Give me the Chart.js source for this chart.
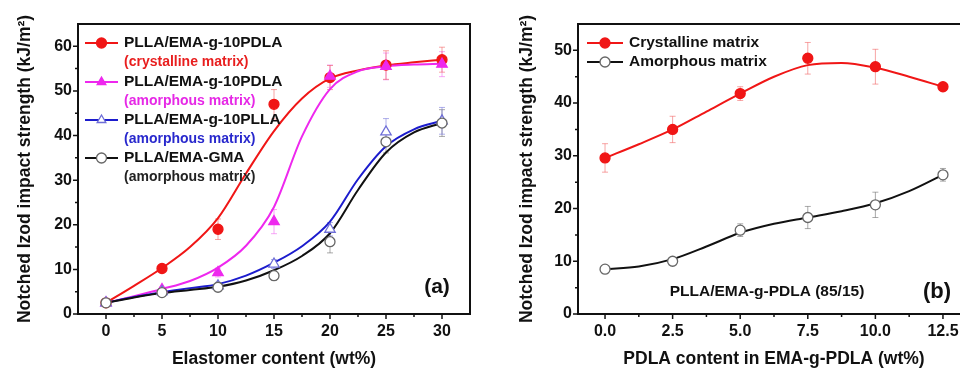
<!DOCTYPE html>
<html><head><meta charset="utf-8">
<script src="https://cdn.jsdelivr.net/npm/chart.js@4.4.1/dist/chart.umd.min.js"></script>
<style>
html,body{margin:0;padding:0;background:#fff;overflow:hidden;width:960px;height:370px;}
#wrapA{position:absolute;left:0;top:0;width:480px;height:370px;}
#wrapB{position:absolute;left:480px;top:0;width:500px;height:370px;}
</style></head><body>
<div id="wrapA"><canvas id="cA" width="480" height="370"></canvas></div>
<div id="wrapB"><canvas id="cB" width="500" height="370"></canvas></div>
<script>
// ---------- Panel (a) data ----------
const elastomerContent = [0, 5, 10, 15, 20, 25, 30];
const crystPDLA   = [2.5, 10.2, 19.0, 47.0, 53.0, 55.8, 57.0];
const amorPDLA    = [2.5, 5.5, 9.3, 20.7, 53.3, 55.5, 56.0];
const amorPLLA    = [2.5, 5.0, 6.3, 11.2, 19.0, 40.8, 43.3];
const amorGMA     = [2.5, 4.8, 6.0, 8.6, 16.2, 38.6, 42.8];
const crystPDLAErr = [0.3, 0.5, 2.3, 3.3, 2.7, 3.2, 2.8];
const amorPDLAErr  = [0.3, 0.5, 1.0, 2.7, 2.5, 3.0, 2.8];
const amorPLLAErr  = [0.3, 0.5, 0.8, 1.0, 1.5, 3.0, 3.0];
const amorGMAErr   = [0.3, 0.5, 0.8, 1.0, 2.5, 2.5, 3.0];
// fitted curves
const fitX        = [0, 2.5, 5, 7.5, 10, 12.5, 15, 17.5, 20, 22.5, 25, 27.5, 30];
const crystPDLAFit = [2.5, 6.3, 10.3, 15.0, 21.5, 31.5, 41.0, 48.3, 52.8, 54.6, 55.7, 56.4, 57.0];
const amorPDLAFit  = [2.5, 4.0, 5.6, 7.4, 10.4, 15.3, 24.0, 39.8, 50.4, 54.4, 55.5, 55.9, 56.1];
const amorPLLAFit  = [2.5, 3.8, 4.9, 5.8, 6.7, 8.6, 11.5, 15.2, 20.7, 30.2, 37.6, 41.4, 43.3];
const amorGMAFit   = [2.5, 3.7, 4.7, 5.4, 6.1, 7.5, 9.8, 13.0, 18.1, 27.8, 36.2, 40.7, 42.8];
const xTicksA = [0, 5, 10, 15, 20, 25, 30];
const xMinorA = [2.5, 7.5, 12.5, 17.5, 22.5, 27.5];
const yTicksA = [0, 10, 20, 30, 40, 50, 60];
const yMinorA = [5, 15, 25, 35, 45, 55];

// ---------- Panel (b) data ----------
const pdlaContent = [0, 2.5, 5, 7.5, 10, 12.5];
const crystMatrix = [29.6, 35.0, 41.8, 48.5, 46.9, 43.1];
const amorMatrix  = [8.5, 10.0, 15.9, 18.3, 20.7, 26.4];
const crystMatrixErr = [2.7, 2.5, 1.3, 3.0, 3.3, 0.5];
const amorMatrixErr  = [0.5, 0.5, 1.2, 2.1, 2.4, 1.2];
const fitXB = [0, 1.25, 2.5, 3.75, 5, 6.25, 7.5, 8.75, 10, 11.25, 12.5];
const crystMatrixFit = [29.6, 32.2, 35.0, 38.4, 41.8, 45.0, 47.2, 47.6, 46.7, 45.0, 43.1];
const amorMatrixFit  = [8.5, 9.0, 10.4, 12.8, 15.4, 17.1, 18.3, 19.5, 21.0, 23.3, 26.4];
const xTicksB = [0, 2.5, 5, 7.5, 10, 12.5];
const xMinorB = [1.25, 3.75, 6.25, 8.75, 11.25, 13.75];
const yTicksB = [0, 10, 20, 30, 40, 50];
const yMinorB = [5, 15, 25, 35, 45];

const FONT = '"Liberation Sans", Arial, Helvetica, sans-serif';
Chart.defaults.font.family = FONT;
Chart.defaults.font.weight = 'bold';
Chart.defaults.color = '#111';

const RED = 'rgb(240,22,22)', MAG = 'rgb(238,40,238)', BLUE = 'rgb(28,28,205)', BLK = '#111';

const pts = (xs, ys) => xs.map((x, i) => ({x, y: ys[i]}));

function curveDS(xs, ys, color) {
  return {data: pts(xs, ys), showLine: true, borderColor: color, borderWidth: 2,
    pointRadius: 0, pointHoverRadius: 0, cubicInterpolationMode: 'monotone', order: 3};
}
function pointDS(xs, ys, errs, style, fill, stroke, errColor, r) {
  return {data: pts(xs, ys), showLine: false, pointStyle: style, pointRadius: r || 5,
    pointHoverRadius: r || 5, backgroundColor: fill, borderColor: stroke, borderWidth: 1.3,
    errors: errs, errColor: errColor, order: 1};
}

const errPlugin = {
  id: 'errbars',
  beforeDatasetsDraw(chart) {
    const ctx = chart.ctx, xs = chart.scales.x, ys = chart.scales.y;
    ctx.save();
    chart.data.datasets.forEach(ds => {
      if (!ds.errors) return;
      ctx.strokeStyle = ds.errColor; ctx.lineWidth = 1;
      ds.data.forEach((p, i) => {
        const e = ds.errors[i];
        const px = xs.getPixelForValue(p.x);
        const y1 = ys.getPixelForValue(p.y + e), y2 = ys.getPixelForValue(p.y - e);
        ctx.beginPath();
        ctx.moveTo(px, y1); ctx.lineTo(px, y2);
        ctx.moveTo(px - 3, y1); ctx.lineTo(px + 3, y1);
        ctx.moveTo(px - 3, y2); ctx.lineTo(px + 3, y2);
        ctx.stroke();
      });
    });
    ctx.restore();
  }
};

function framePlugin(xMaj, xMin, yMaj, yMin) {
  return {
    id: 'frame',
    afterDraw(chart) {
      const ctx = chart.ctx, a = chart.chartArea, xs = chart.scales.x, ys = chart.scales.y;
      ctx.save();
      ctx.strokeStyle = '#111'; ctx.lineWidth = 2;
      ctx.strokeRect(a.left, a.top, a.right - a.left, a.bottom - a.top);
      ctx.lineWidth = 1.5;
      ctx.beginPath();
      xMaj.forEach(v => { const p = xs.getPixelForValue(v); ctx.moveTo(p, a.bottom); ctx.lineTo(p, a.bottom + 5); });
      xMin.forEach(v => { const p = xs.getPixelForValue(v); ctx.moveTo(p, a.bottom); ctx.lineTo(p, a.bottom + 3); });
      yMaj.forEach(v => { const p = ys.getPixelForValue(v); ctx.moveTo(a.left, p); ctx.lineTo(a.left - 5, p); });
      yMin.forEach(v => { const p = ys.getPixelForValue(v); ctx.moveTo(a.left, p); ctx.lineTo(a.left - 3, p); });
      ctx.stroke();
      ctx.restore();
    }
  };
}

function legendPlugin(x0, x1, items, mainSize, subSize) {
  return {
    id: 'customLegend',
    afterDraw(chart) {
      const ctx = chart.ctx;
      ctx.save();
      items.forEach(it => {
        ctx.strokeStyle = it.line; ctx.lineWidth = 2;
        ctx.beginPath(); ctx.moveTo(x0, it.y); ctx.lineTo(x1, it.y); ctx.stroke();
        ctx.fillStyle = it.fill; ctx.strokeStyle = it.stroke; ctx.lineWidth = 1.3;
        Chart.helpers.drawPoint(ctx, {pointStyle: it.style, radius: 5, borderWidth: 1.3}, (x0 + x1) / 2, it.y);
        ctx.fillStyle = '#111';
        ctx.textBaseline = 'middle'; ctx.textAlign = 'left';
        ctx.font = 'bold ' + mainSize + 'px ' + FONT;
        ctx.fillText(it.main, x1 + 6, it.y);
        if (it.sub) {
          ctx.fillStyle = it.subColor;
          ctx.font = 'bold ' + subSize + 'px ' + FONT;
          ctx.fillText(it.sub, x1 + 6, it.y + 19.5);
        }
      });
      ctx.restore();
    }
  };
}

function textPlugin(texts) {
  return {
    id: 'texts',
    afterDraw(chart) {
      const ctx = chart.ctx;
      ctx.save();
      texts.forEach(t => {
        ctx.fillStyle = '#111'; ctx.textAlign = 'center'; ctx.textBaseline = 'middle';
        ctx.font = 'bold ' + t.size + 'px ' + FONT;
        ctx.fillText(t.text, t.x, t.y);
      });
      ctx.restore();
    }
  };
}

function scalesCfg(o) {
  return {
    x: {
      type: 'linear', min: o.xmin, max: o.xmax,
      afterBuildTicks: s => { s.ticks = o.xTicks.map(v => ({value: v})); },
      afterFit: s => { s.height = 56; },
      grid: {display: false, drawTicks: true, tickLength: 5},
      border: {display: false},
      ticks: {autoSkip: false, maxRotation: 0, padding: 3, color: '#111',
        font: {size: 16, weight: 'bold'}, callback: o.xfmt},
      title: {display: true, text: o.xtitle, color: '#111', font: {size: 17.5, weight: 'bold'},
        padding: {top: 0, bottom: 0}}
    },
    y: {
      type: 'linear', min: 0, max: o.ymax,
      afterBuildTicks: s => { s.ticks = o.yTicks.map(v => ({value: v})); },
      afterFit: s => { s.width = o.ywidth; },
      grid: {display: false, drawTicks: true, tickLength: 4},
      border: {display: false},
      ticks: {autoSkip: false, padding: 2, color: '#111', font: {size: 16, weight: 'bold'},
        callback: v => String(v)},
      title: {display: true, text: 'Notched Izod impact strength (kJ/m²)', color: '#111',
        font: {size: 17.5, weight: 'bold'}, padding: {top: o.ytitlePad, bottom: 0}}
    }
  };
}

const commonOpts = {
  responsive: false, animation: false, devicePixelRatio: 1,
  plugins: {legend: {display: false}, tooltip: {enabled: false}},
  events: []
};

new Chart(document.getElementById('cA'), {
  type: 'scatter',
  data: {datasets: [
    curveDS(fitX, amorGMAFit, BLK),
    curveDS(fitX, amorPLLAFit, BLUE),
    curveDS(fitX, amorPDLAFit, MAG),
    curveDS(fitX, crystPDLAFit, RED),
    pointDS(elastomerContent, amorGMA, amorGMAErr, 'circle', '#fff', '#666', 'rgba(100,100,100,0.55)'),
    pointDS(elastomerContent, amorPLLA, amorPLLAErr, 'triangle', '#fff', 'rgb(110,110,215)', 'rgba(120,120,220,0.6)', 6),
    pointDS(elastomerContent, amorPDLA, amorPDLAErr, 'triangle', MAG, MAG, 'rgba(240,110,240,0.6)', 6),
    pointDS(elastomerContent, crystPDLA, crystPDLAErr, 'circle', RED, RED, 'rgba(240,90,90,0.55)')
  ]},
  options: Object.assign({}, commonOpts, {
    layout: {padding: {top: 24, right: 10, left: 0, bottom: 0}},
    scales: scalesCfg({xmin: -2.5, xmax: 32.5, ymax: 65, xTicks: xTicksA, yTicks: yTicksA,
      xfmt: v => String(v), xtitle: 'Elastomer content (wt%)', ywidth: 78, ytitlePad: 14.5})
  }),
  plugins: [errPlugin, framePlugin(xTicksA, xMinorA, yTicksA, yMinorA),
    legendPlugin(85, 118, [
      {main: 'PLLA/EMA-g-10PDLA', sub: '(crystalline matrix)', subColor: 'rgb(232,30,30)', line: RED, style: 'circle', fill: RED, stroke: RED, y: 43},
      {main: 'PLLA/EMA-g-10PDLA', sub: '(amorphous matrix)', subColor: 'rgb(230,40,230)', line: MAG, style: 'triangle', fill: MAG, stroke: MAG, y: 82},
      {main: 'PLLA/EMA-g-10PLLA', sub: '(amorphous matrix)', subColor: 'rgb(40,40,205)', line: BLUE, style: 'triangle', fill: '#fff', stroke: 'rgb(110,110,215)', y: 120},
      {main: 'PLLA/EMA-GMA', sub: '(amorphous matrix)', subColor: '#222', line: BLK, style: 'circle', fill: '#fff', stroke: '#666', y: 158}
    ], 15.5, 14),
    textPlugin([{text: '(a)', x: 437, y: 287, size: 21}])]
});

new Chart(document.getElementById('cB'), {
  type: 'scatter',
  data: {datasets: [
    curveDS(fitXB, amorMatrixFit, BLK),
    curveDS(fitXB, crystMatrixFit, RED),
    pointDS(pdlaContent, amorMatrix, amorMatrixErr, 'circle', '#fff', '#666', 'rgba(100,100,100,0.55)'),
    pointDS(pdlaContent, crystMatrix, crystMatrixErr, 'circle', RED, RED, 'rgba(240,90,90,0.55)')
  ]},
  options: Object.assign({}, commonOpts, {
    layout: {padding: {top: 24, right: 10, left: 0, bottom: 0}},
    scales: scalesCfg({xmin: -1, xmax: 13.5, ymax: 55, xTicks: xTicksB, yTicks: yTicksB,
      xfmt: v => v.toFixed(1), xtitle: 'PDLA content in EMA-g-PDLA (wt%)', ywidth: 98, ytitlePad: 36.5})
  }),
  plugins: [errPlugin, framePlugin(xTicksB, xMinorB.filter(v => v < 13.5), yTicksB, yMinorB),
    legendPlugin(107, 143, [
      {main: 'Crystalline matrix', line: RED, style: 'circle', fill: RED, stroke: RED, y: 43},
      {main: 'Amorphous matrix', line: BLK, style: 'circle', fill: '#fff', stroke: '#666', y: 62}
    ], 15.5, 14),
    textPlugin([{text: 'PLLA/EMA-g-PDLA (85/15)', x: 287, y: 292, size: 15.5},
                {text: '(b)', x: 457, y: 292, size: 22}])]
});
</script>
</body></html>
